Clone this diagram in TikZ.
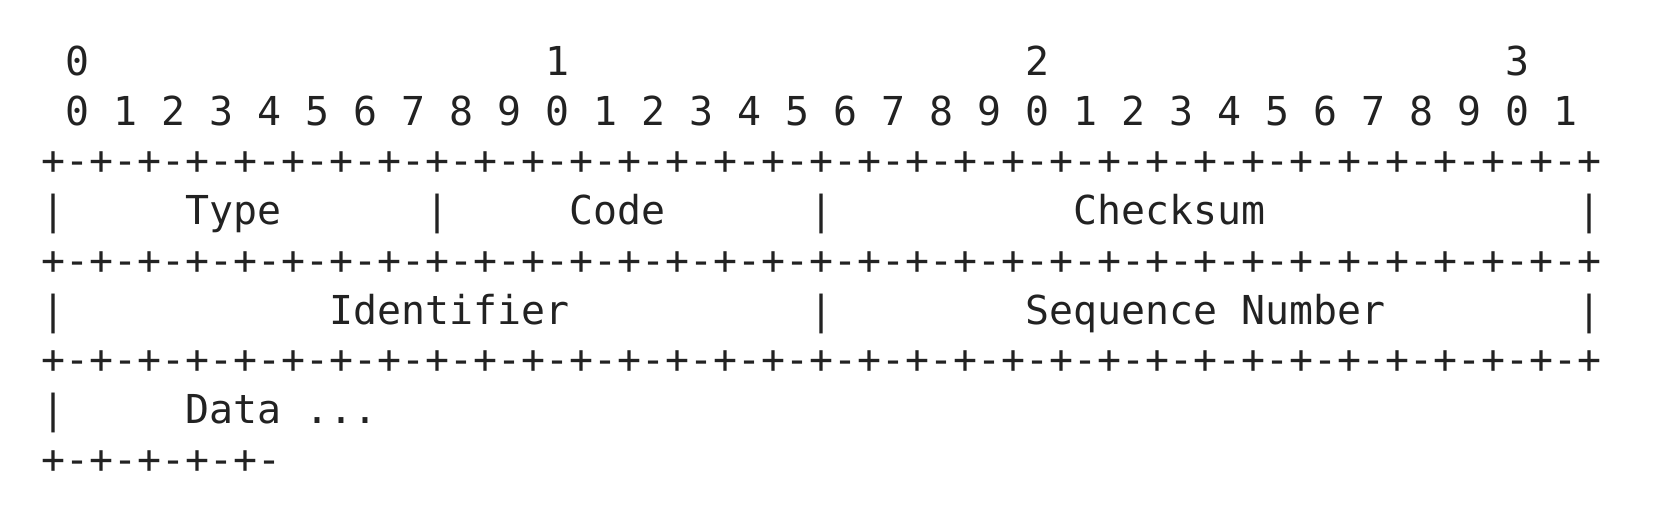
\documentclass[tikz,border=0pt]{standalone}
\usepackage{fontspec}
\newfontfamily\monofont{DejaVu Sans Mono}
\definecolor{ink}{RGB}{34,34,34}
\tikzset{
  t/.style={inner sep=0pt, outer sep=0pt, anchor=base west, text=ink,
            font=\monofont\fontsize{19.93pt}{24pt}\selectfont}
}
\begin{document}
\begin{tikzpicture}
\useasboundingbox (0pt,0pt) rectangle (837pt,-252pt);
\begin{scope}[shift={(20.65pt,-37.75pt)}, x=12pt, y=-24.85pt]
  % row 0: decade markers
  \node[t] (d0) at (1,0) {0};
  \node[t] (d1) at (21,0) {1};
  \node[t] (d2) at (41,0) {2};
  \node[t] (d3) at (61,0) {3};
  % row 1: bit numbers
  \foreach \n in {0,...,31}{
    \pgfmathtruncatemacro\dg{mod(\n,10)}
    \node[t] (b\n) at ({2*\n+1},1) {\dg};
  }
  % separator rows
  \node[t] (s1) at (0,2) {+-+-+-+-+-+-+-+-+-+-+-+-+-+-+-+-+-+-+-+-+-+-+-+-+-+-+-+-+-+-+-+-+};
  \node[t] (s2) at (0,4) {+-+-+-+-+-+-+-+-+-+-+-+-+-+-+-+-+-+-+-+-+-+-+-+-+-+-+-+-+-+-+-+-+};
  \node[t] (s3) at (0,6) {+-+-+-+-+-+-+-+-+-+-+-+-+-+-+-+-+-+-+-+-+-+-+-+-+-+-+-+-+-+-+-+-+};
  \node[t] (s4) at (0,8) {+-+-+-+-+-};
  % row 3
  \node[t] (p30) at (0,3) {|};
  \node[t] (type) at (6,3) {Type};
  \node[t] (p316) at (16,3) {|};
  \node[t] (code) at (22,3) {Code};
  \node[t] (p332) at (32,3) {|};
  \node[t] (csum) at (43,3) {Checksum};
  \node[t] (p364) at (64,3) {|};
  % row 5
  \node[t] (p50) at (0,5) {|};
  \node[t] (ident) at (12,5) {Identifier};
  \node[t] (p532) at (32,5) {|};
  \node[t] (seq) at (41,5) {Sequence Number};
  \node[t] (p564) at (64,5) {|};
  % row 7
  \node[t] (p70) at (0,7) {|};
  \node[t] (data) at (6,7) {Data ...};
\end{scope}
\end{tikzpicture}
\end{document}
